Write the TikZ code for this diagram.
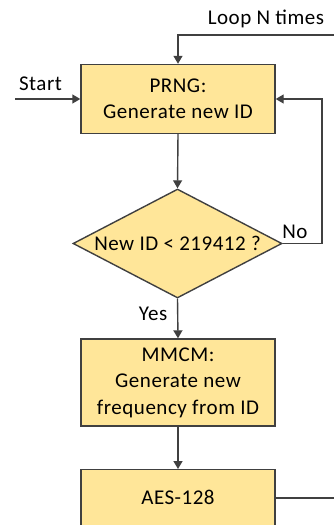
\documentclass[tikz,border=0pt]{standalone}
\usepackage{fontspec}
\setmainfont[LetterSpace=2.5]{Carlito}
\usetikzlibrary{shapes.geometric,arrows.meta}
\definecolor{boxfill}{HTML}{FFE699}
\definecolor{edge}{HTML}{404040}
\begin{document}
\begin{tikzpicture}[x=1pt,y=-1pt,
  every node/.style={font=\fontsize{21}{26.5}\selectfont, text=black},
  stepbox/.style={draw=edge, line width=1.4pt, fill=boxfill, minimum width=194pt, inner sep=0pt, align=center},
  decision/.style={diamond, draw=edge, line width=1.4pt, fill=boxfill, minimum width=209pt, minimum height=109pt, inner sep=0pt, aspect=1.9},
  flow/.style={draw=edge, line width=1.4pt, -{Triangle[length=8pt,width=9pt]}},
  plain/.style={draw=edge, line width=1.4pt}
]
\useasboundingbox (0,0) rectangle (334,525);
\clip (0,0) rectangle (334,525);

% process steps
\node[stepbox, minimum height=69pt] (prng) at (178,99) {PRNG:\\Generate new ID};
\node[decision] (dec) at (177.5,243.5) {New ID < 219412 ?};
\node[stepbox, minimum height=87pt] (mmcm) at (178,382.5) {MMCM:\\Generate new\\frequency from ID};
\node[stepbox, minimum height=90pt, anchor=north] (aes) at (178,469) {};
\node (aestext) at (178,497) {AES-128};

% free ends of the outer connectors
\coordinate (startpt) at (15,99);
\coordinate (loopin) at (336,35);
\coordinate (aesout) at (336,498);
\coordinate (retx) at (322,0);

% labels
\node[anchor=base] (startlbl) at (40.5,90) {Start};
\node[anchor=base] (looplbl) at (266,24) {Loop N times};
\node[anchor=base] (nolbl) at (295,238) {No};
\node[anchor=base] (yeslbl) at (153,320) {Yes};

% connectors
\draw[flow] (startpt) -- (prng.west);
\draw[flow] (loopin) -| (prng.north);
\draw[flow] (prng.south) -- (dec.north);
\draw[flow] (dec.east) -- (retx |- dec.east) |- (prng.east);
\draw[flow] (dec.south) -- (mmcm.north);
\draw[flow] (mmcm.south) -- (aes.north);
\draw[plain] (aesout -| aes.east) -- (aesout);
\end{tikzpicture}
\end{document}
